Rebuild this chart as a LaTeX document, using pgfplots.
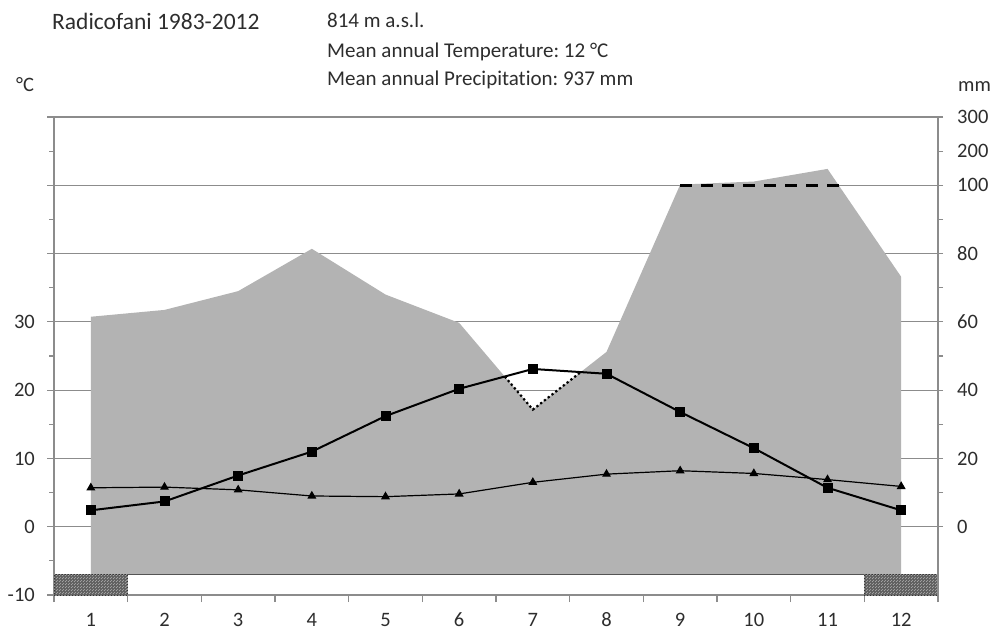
\documentclass[border=0pt]{standalone}
\usepackage{fontspec}
\setmainfont{Carlito}[Ligatures=NoCommon]
\usepackage{pgfplots}
\usepackage{pgfplotstable}
\pgfplotsset{compat=1.18}
\usepgfplotslibrary{fillbetween}
\usetikzlibrary{patterns}
\definecolor{gridc}{RGB}{140,140,140}
\definecolor{areac}{RGB}{179,179,179}
\definecolor{txt}{RGB}{45,45,45}
\frenchspacing

\pgfplotstableread{
m p t r
1 61.5 2.4 5.7
2 63.5 3.7 5.8
3 69.0 7.5 5.4
4 81.4 11.0 4.5
5 68.0 16.2 4.4
6 59.7 20.2 4.8
7 34.3 23.1 6.5
8 51.2 22.4 7.7
9 102 16.8 8.2
10 111 11.5 7.8
11 148 5.7 6.9
12 73.2 2.4 5.9
}\climdata

% dry period: precipitation line (in mm) where it lies below the temperature curve
\pgfplotstableread{
m p
6.619 43.98
7 34.3
7.650 45.28
}\drydata

\begin{document}
\begin{tikzpicture}
\begin{axis}[
  at={(54pt,37pt)}, anchor=south west, scale only axis,
  width=884pt, height=478pt,
  xmin=0.5, xmax=12.5, ymin=-10, ymax=60,
  xtick={0.5,1.5,...,12.5},
  xticklabels={1,2,3,4,5,6,7,8,9,10,11,12},
  x tick label as interval,
  ytick={-10,0,...,60},
  yticklabels={-10,0,10,20,30,,,},
  minor ytick={-5,5,...,55},
  ymajorgrids,
  grid style={gridc, line width=1.2pt},
  axis line style={gridc, line width=1.2pt},
  tick style={gridc, line width=1.2pt},
  tick align=outside,
  ytick pos=left, xtick pos=bottom,
  major tick length=7pt, minor tick length=5pt,
  tick label style={font=\fontsize{20.5}{24}\selectfont, text=txt, inner sep=0pt},
  yticklabel style={xshift=-12pt},
  xticklabel style={yshift=-11pt, text height=13pt},
  clip=false,
]
\addplot[draw=none, name path=P, forget plot] table[x=m, y expr={(\thisrow{p}<=100) ? (\thisrow{p}/2) : (50+(\thisrow{p}-100)/20)}] \climdata;
\addplot[draw=none, name path=B, forget plot] coordinates {(1,-7) (12,-7)};
\addplot[areac, forget plot] fill between[of=P and B];
\addplot[gridc!60!black, line width=1.6pt, forget plot] coordinates {(0.5,-7) (12.5,-7)};
\addplot[draw=black!80, dotted, line width=1pt, preaction={fill=black!62}, pattern=north east lines, pattern color=black!30, forget plot]
  coordinates {(0.5,-10) (1.5,-10) (1.5,-7) (0.5,-7) (0.5,-10)};
\addplot[draw=black!80, dotted, line width=1pt, preaction={fill=black!62}, pattern=north east lines, pattern color=black!30, forget plot]
  coordinates {(11.5,-10) (12.5,-10) (12.5,-7) (11.5,-7) (11.5,-10)};
\addplot[black, line width=3.5pt, dash pattern=on 12pt off 9pt, forget plot] coordinates {(9,50) (11.15,50)};
\addplot[black, line width=2.2pt, dash pattern=on 2.2pt off 2.6pt, forget plot] table[x=m, y expr={\thisrow{p}/2}] \drydata;
\addplot[black, line width=1.2pt, mark=triangle*, mark size=4pt] table[x=m, y=r] \climdata;
\addplot[black, line width=2pt, mark=square*, mark size=4pt, mark options={solid}] table[x=m, y=t] \climdata;
\end{axis}
\begin{axis}[
  at={(54pt,37pt)}, anchor=south west, scale only axis,
  width=884pt, height=478pt,
  xmin=0.5, xmax=12.5, ymin=-10, ymax=60,
  axis x line=none, axis y line*=right,
  ytick={0,10,20,30,40,50,55,60},
  yticklabels={0,20,40,60,80,100,200,300},
  minor ytick={5,15,25,35,45},
  axis line style={gridc, line width=1.2pt},
  tick style={gridc, line width=1.2pt},
  tick align=outside,
  major tick length=5pt, minor tick length=5pt,
  tick label style={font=\fontsize{20.5}{24}\selectfont, text=txt, inner sep=0pt},
  yticklabel style={xshift=14pt},
]
\addplot[draw=none] coordinates {(1,0) (12,10)};
\end{axis}
\node[anchor=base west, inner sep=0, text=txt, font=\fontsize{23.5}{28}\selectfont] at (52pt,602pt) {Radicofani 1983-2012};
\node[anchor=base west, inner sep=0, text=txt, font=\fontsize{21}{24}\selectfont] at (327pt,604pt) {814 m a.s.l.};
\node[anchor=base west, inner sep=0, text=txt, font=\fontsize{21}{24}\selectfont] at (327pt,574pt) {Mean annual Temperature: 12 °C};
\node[anchor=base west, inner sep=0, text=txt, font=\fontsize{21}{24}\selectfont] at (327pt,546pt) {Mean annual Precipitation: 937 mm};
\node[anchor=base west, inner sep=0, text=txt, font=\fontsize{20.5}{24}\selectfont] at (16pt,540pt) {°C};
\node[anchor=base west, inner sep=0, text=txt, font=\fontsize{20.5}{24}\selectfont] at (958pt,540pt) {mm};
\pgfresetboundingbox
\path[use as bounding box] (0,0) rectangle (992pt,632pt);
\end{tikzpicture}
\end{document}
